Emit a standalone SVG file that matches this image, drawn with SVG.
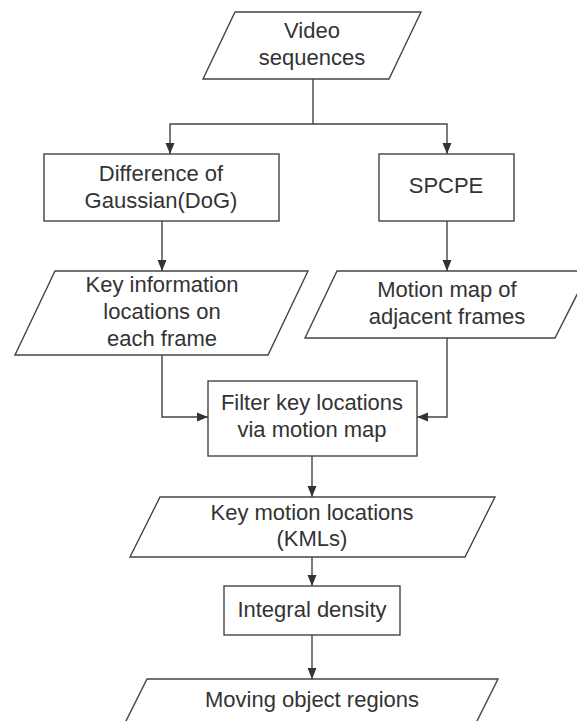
<svg xmlns="http://www.w3.org/2000/svg" width="577" height="721" viewBox="0 0 577 721">
<style>
.shape{fill:#fff;stroke:#444;stroke-width:1.4}
.conn{fill:none;stroke:#444;stroke-width:1.4}
text{font-family:"Liberation Sans",Arial,sans-serif;font-size:22px;fill:#333;text-anchor:middle}
</style>
<defs>
<marker id="arr" markerUnits="userSpaceOnUse" markerWidth="12" markerHeight="12" viewBox="0 0 12 12" refX="11" refY="6" orient="auto">
<path d="M0,1.5 L11,6 L0,10.5 Z" fill="#333"/>
</marker>
</defs>
<rect width="577" height="721" fill="#fff"/>
<g id="connectors">
<path class="conn" d="M313 79 V124 H170 V154" marker-end="url(#arr)"/>
<path class="conn" d="M313 124 H447 V154" marker-end="url(#arr)"/>
<path class="conn" d="M162 221 V271" marker-end="url(#arr)"/>
<path class="conn" d="M447 221 V271" marker-end="url(#arr)"/>
<path class="conn" d="M162 355 V417 H208" marker-end="url(#arr)"/>
<path class="conn" d="M447 338 V417 H417" marker-end="url(#arr)"/>
<path class="conn" d="M312 456 V497" marker-end="url(#arr)"/>
<path class="conn" d="M312 557 V586" marker-end="url(#arr)"/>
<path class="conn" d="M312 635 V679" marker-end="url(#arr)"/>
</g>
<g id="video">
<polygon class="shape" points="235,12 421,12 389,79 203,79"/>
<text x="312" y="38">Video</text>
<text x="312" y="65">sequences</text>
</g>
<g id="dog">
<rect class="shape" x="44" y="154" width="235" height="67"/>
<text x="161" y="181">Difference of</text>
<text x="161" y="208">Gaussian(DoG)</text>
</g>
<g id="spcpe">
<rect class="shape" x="379" y="154" width="135" height="67"/>
<text x="446" y="193">SPCPE</text>
</g>
<g id="keyinfo">
<polygon class="shape" points="55,271 308,271 268,355 15,355"/>
<text x="162" y="292">Key information</text>
<text x="162" y="319">locations on</text>
<text x="162" y="346">each frame</text>
</g>
<g id="motionmap">
<polygon class="shape" points="337,271 589,271 555,338 305,338"/>
<text x="447" y="297">Motion map of</text>
<text x="447" y="324">adjacent frames</text>
</g>
<g id="filter">
<rect class="shape" x="208" y="381" width="209" height="75"/>
<text x="312" y="410">Filter key locations</text>
<text x="312" y="437">via motion map</text>
</g>
<g id="kml">
<polygon class="shape" points="160,497 495,497 465,557 130,557"/>
<text x="312" y="520">Key motion locations</text>
<text x="312" y="546">(KMLs)</text>
</g>
<g id="integral">
<rect class="shape" x="224" y="586" width="176" height="49"/>
<text x="312" y="617">Integral density</text>
</g>
<g id="moving">
<polygon class="shape" points="147,679 498,679 468,739 117,739"/>
<text x="312" y="707">Moving object regions</text>
</g>
</svg>
